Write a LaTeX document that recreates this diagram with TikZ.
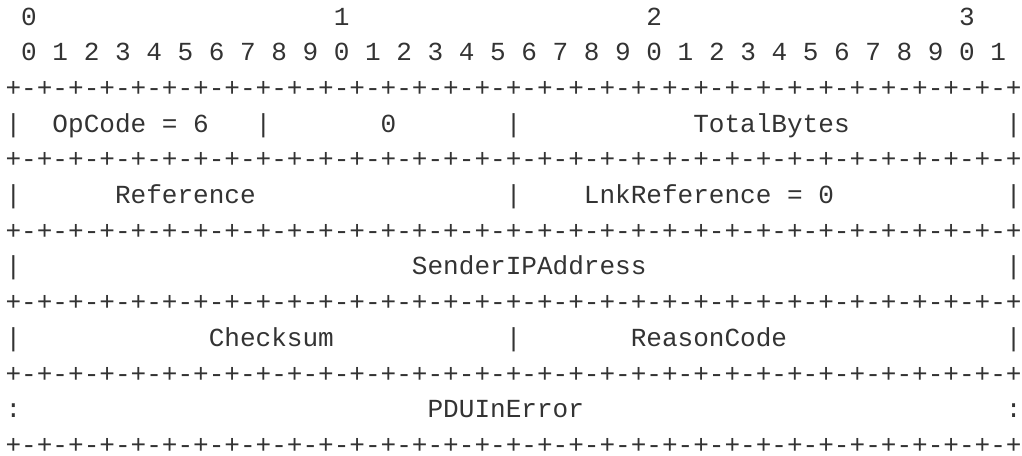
\documentclass[tikz,border=0pt]{standalone}
\usepackage{fontspec}
\setmonofont{Liberation Mono}
\definecolor{ink}{HTML}{333333}
\tikzset{txt/.style={anchor=base west, inner sep=0pt, outer sep=0pt, text depth=0pt, text=ink, font=\ttfamily\fontsize{26.05}{30}\selectfont}}
\newcommand\tok[4]{\node[txt] (#1) at ({5.6pt+#2*15.63pt},{-25pt-(#3-1)*35.7pt}) {#4};}
\newcommand\border{+-+-+-+-+-+-+-+-+-+-+-+-+-+-+-+-+-+-+-+-+-+-+-+-+-+-+-+-+-+-+-+-+}
\begin{document}
\begin{tikzpicture}
\useasboundingbox (0,0) rectangle (1022pt,-455pt);
% header digits
\tok{h0}{1}{1}{0}
\tok{h1}{21}{1}{1}
\tok{h2}{41}{1}{2}
\tok{h3}{61}{1}{3}
\tok{bits}{1}{2}{0~1~2~3~4~5~6~7~8~9~0~1~2~3~4~5~6~7~8~9~0~1~2~3~4~5~6~7~8~9~0~1}
% borders
\tok{b3}{0}{3}{\border}
\tok{b5}{0}{5}{\border}
\tok{b7}{0}{7}{\border}
\tok{b9}{0}{9}{\border}
\tok{b11}{0}{11}{\border}
\tok{b13}{0}{13}{\border}
% row 4
\tok{s4a}{0}{4}{|}
\tok{opc}{3}{4}{OpCode~=~6}
\tok{s4b}{16}{4}{|}
\tok{zero}{24}{4}{0}
\tok{s4c}{32}{4}{|}
\tok{tb}{44}{4}{TotalBytes}
\tok{s4d}{64}{4}{|}
% row 6
\tok{s6a}{0}{6}{|}
\tok{ref}{7}{6}{Reference}
\tok{s6b}{32}{6}{|}
\tok{lnk}{37}{6}{LnkReference~=~0}
\tok{s6c}{64}{6}{|}
% row 8
\tok{s8a}{0}{8}{|}
\tok{sip}{26}{8}{SenderIPAddress}
\tok{s8b}{64}{8}{|}
% row 10
\tok{s10a}{0}{10}{|}
\tok{cks}{13}{10}{Checksum}
\tok{s10b}{32}{10}{|}
\tok{rc}{40}{10}{ReasonCode}
\tok{s10c}{64}{10}{|}
% row 12
\tok{s12a}{0}{12}{:}
\tok{pdu}{27}{12}{PDUInError}
\tok{s12b}{64}{12}{:}
\end{tikzpicture}
\end{document}
